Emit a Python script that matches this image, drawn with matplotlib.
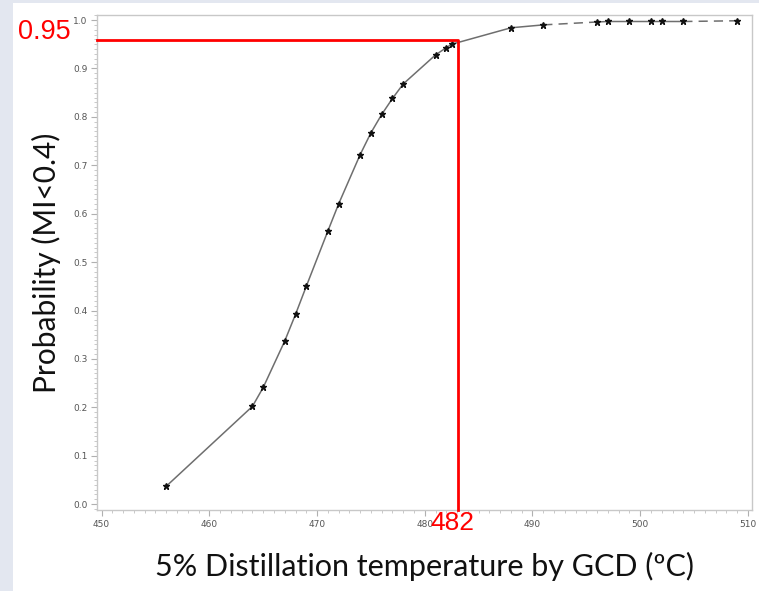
import matplotlib
matplotlib.use("Agg")
import matplotlib.pyplot as plt
import matplotlib.transforms as mtransforms
from matplotlib.patches import Rectangle
from matplotlib.ticker import MultipleLocator, FormatStrFormatter

# Data
temps = [456, 464, 465, 467, 468, 469, 471, 472, 474, 475, 476, 477, 478,
         481, 482, 482.5, 488, 491, 496, 497, 499, 501, 502, 504, 509]
probs = [0.037, 0.202, 0.241, 0.337, 0.392, 0.450, 0.564, 0.620, 0.722, 0.767,
         0.805, 0.838, 0.868, 0.928, 0.943, 0.950, 0.984, 0.990, 0.996, 0.997,
         0.997, 0.997, 0.997, 0.997, 0.9985]
x_ticks = [450, 460, 470, 480, 490, 500, 510]
y_ticks = [0.0, 0.1, 0.2, 0.3, 0.4, 0.5, 0.6, 0.7, 0.8, 0.9, 1.0]
cut_x, cut_y = 483.1, 0.959
cut_x_label, cut_y_label = "482", "0.95"

fig = plt.figure(figsize=(7.59, 5.91), dpi=100)
fig.patch.set_facecolor("#e3e7f0")
fig.patches.append(Rectangle((13/759, 0), 1 - 13/759, 1 - 3/591,
                             transform=fig.transFigure, facecolor="white",
                             edgecolor="none", zorder=-10))

ax = fig.add_axes([0.1282, 0.1371, 0.9904 - 0.1282, 0.9751 - 0.1371])
ax.set_xlim(449.6, 510.35)
ax.set_ylim(-0.012, 1.011)

# Curve: solid mostly, dashed in two spans
i491 = temps.index(491)
i496 = temps.index(496)
i504 = temps.index(504)
lc = "#6e6e6e"
ax.plot(temps[:i491 + 1], probs[:i491 + 1], color=lc, lw=1.1, zorder=2)
ax.plot(temps[i491:i496 + 1], probs[i491:i496 + 1], color=lc, lw=1.1,
        dashes=(6, 4), zorder=2)
ax.plot(temps[i496:i504 + 1], probs[i496:i504 + 1], color=lc, lw=1.1, zorder=2)
ax.plot(temps[i504:], probs[i504:], color=lc, lw=1.1, dashes=(6, 4), zorder=2)
ax.plot(temps, probs, linestyle="none", marker="*", ms=4.5, color="#111111",
        zorder=3)

# Red cut-off lines
ax.plot([449.6, cut_x, cut_x], [cut_y, cut_y, -0.012], color="#ff0000",
        lw=2.0, solid_joinstyle="round", zorder=4, clip_on=False)

# Ticks
ax.set_xticks(x_ticks)
ax.set_yticks(y_ticks)
ax.xaxis.set_minor_locator(MultipleLocator(1))
ax.yaxis.set_minor_locator(MultipleLocator(0.01))
ax.yaxis.set_major_formatter(FormatStrFormatter("%.1f"))
ax.tick_params(axis="both", which="major", length=4, width=0.8,
               color="#b0b0b0", labelsize=6.5, labelcolor="#555555", pad=3)
ax.tick_params(axis="both", which="minor", length=2, width=0.6,
               color="#c0c0c0")
for s in ax.spines.values():
    s.set_color("#c8c8c8")
    s.set_linewidth(1.0)

font = "Lato"
ax.set_xlabel("5% Distillation temperature by GCD (ºC)", fontsize=22,
              family=font, color="#111111", labelpad=17)
ax.set_ylabel("Probability (MI<0.4)", fontsize=21.5, family=font,
              color="#111111", labelpad=9)

# Red labels
trans_y = mtransforms.blended_transform_factory(ax.transAxes, ax.transData)
ax.text(-0.041, 0.975, cut_y_label, transform=trans_y, color="#ff0000",
        fontsize=19.5, ha="right", va="center", family="Liberation Sans")
trans_x = mtransforms.blended_transform_factory(ax.transData, ax.transAxes)
ax.text(482.6, -0.026, cut_x_label, transform=trans_x, color="#ff0000",
        fontsize=19, ha="center", va="center", family="Liberation Sans")

fig.savefig("out.png", dpi=100)
